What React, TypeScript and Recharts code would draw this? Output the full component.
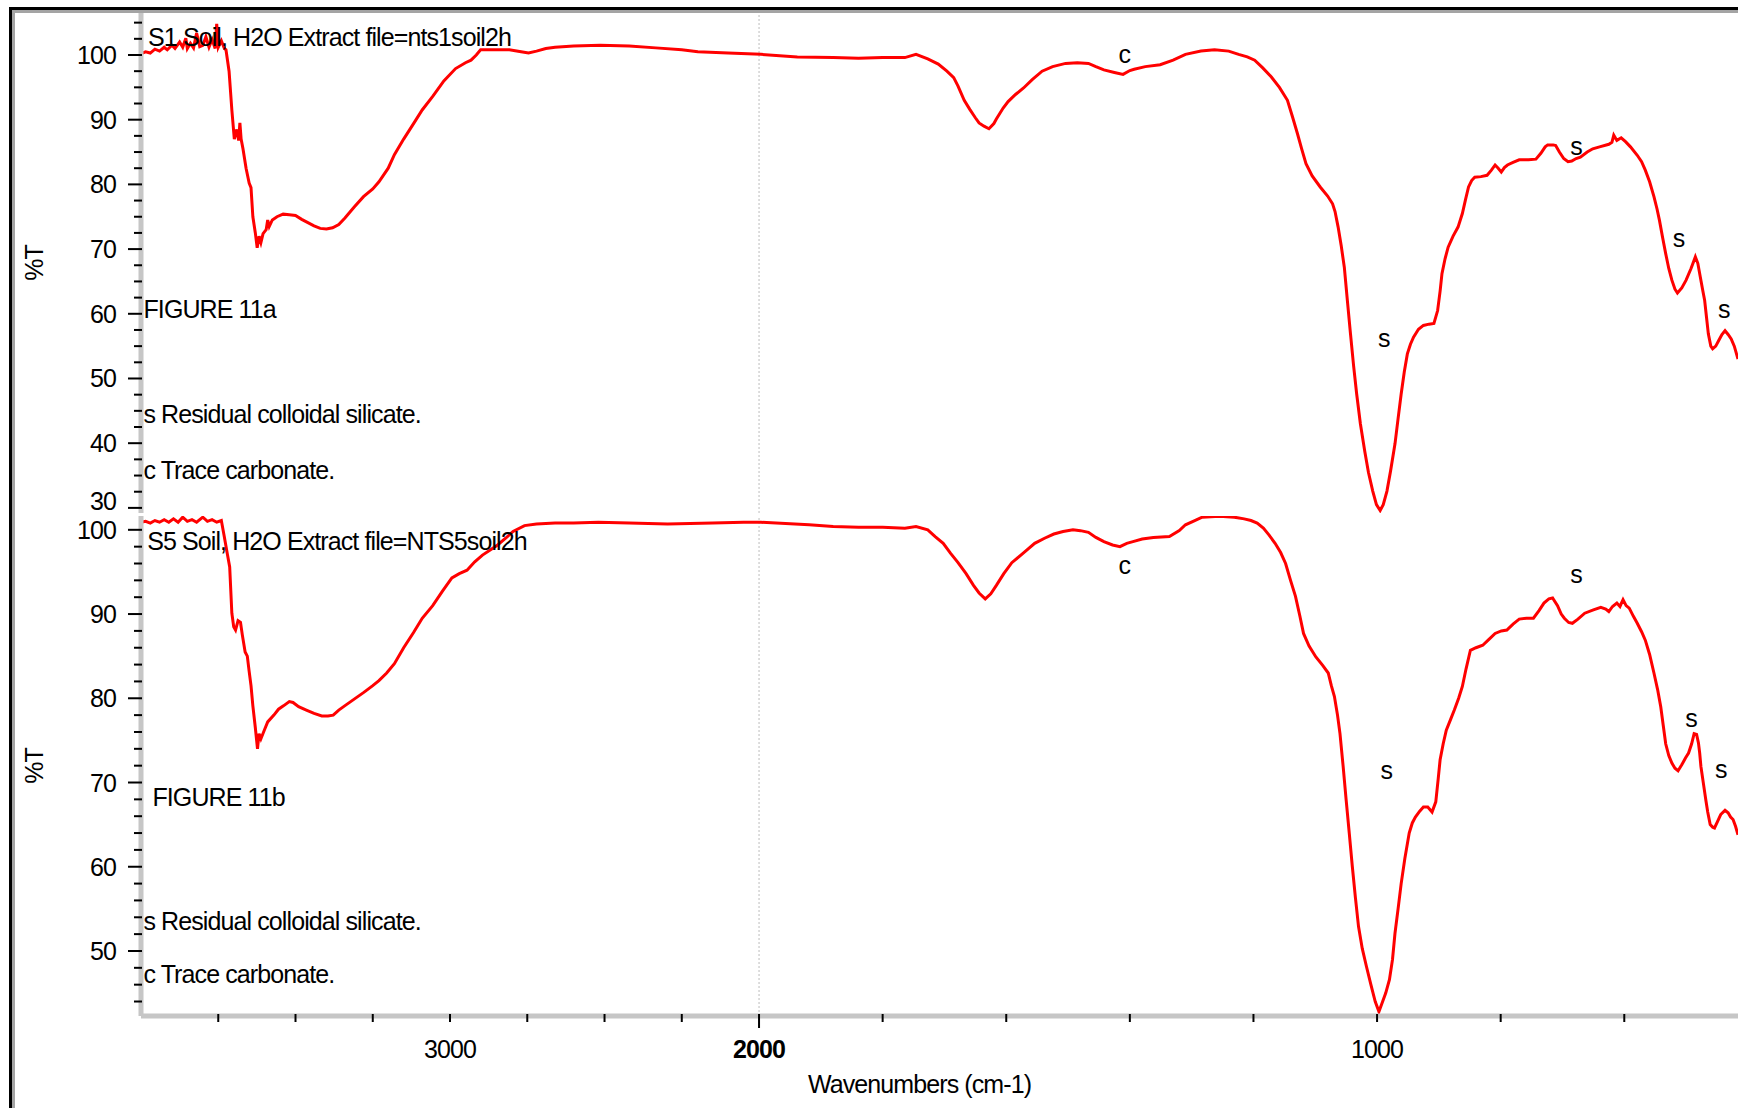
import React from 'react';
import { LineChart, Line, XAxis, YAxis, ReferenceLine, ReferenceDot } from 'recharts';

// ---------- data (wavenumber cm-1, %T) ----------
const s1Wavenumbers = [
  4000, 3985, 3970, 3955, 3940, 3925, 3915, 3900, 3890, 3875, 3865, 3855, 3850, 3840, 3830, 3820, 3810,
  3800, 3790, 3780, 3770, 3760, 3755, 3750, 3740, 3730, 3725, 3715, 3706, 3698, 3690, 3684, 3680, 3676,
  3670, 3660, 3650, 3644, 3638, 3630, 3624, 3618, 3612, 3605, 3595, 3590, 3585, 3575, 3560, 3540, 3520,
  3500, 3480, 3460, 3440, 3420, 3400, 3380, 3360, 3340, 3310, 3280, 3250, 3230, 3200, 3180, 3150, 3118,
  3090, 3056, 3020, 2982, 2950, 2932, 2915, 2901, 2850, 2808, 2770, 2746, 2720, 2690, 2660, 2600, 2514,
  2420, 2334, 2250, 2198, 2100, 1997, 1938, 1880, 1839, 1800, 1764, 1746, 1727, 1710, 1696, 1685, 1678,
  1668, 1659, 1650, 1644, 1636, 1628, 1620, 1616, 1605, 1597, 1585, 1572, 1558, 1542, 1525, 1504, 1485,
  1467, 1455, 1442, 1425, 1411, 1400, 1393, 1375, 1351, 1330, 1310, 1285, 1263, 1240, 1224, 1210, 1198,
  1185, 1171, 1158, 1145, 1137, 1129, 1122, 1115, 1105, 1092, 1080, 1072, 1068, 1063, 1058, 1053, 1048,
  1043, 1038, 1033, 1027, 1020, 1014, 1007, 1001, 995, 990, 984, 978, 971, 966, 961, 956, 951, 946, 941,
  933, 925, 916, 908, 902, 898, 895, 890, 885, 877, 869, 862, 857, 852, 847, 842, 832, 822, 815, 809, 804,
  799, 794, 789, 780, 770, 755, 743, 735, 728, 724, 715, 711, 705, 698, 691, 685, 678, 671, 660, 651, 640,
  625, 620, 617, 612, 605, 598, 590, 579, 572, 566, 559, 552, 547, 543, 538, 533, 528, 523, 518, 514, 507,
  500, 492, 485, 481, 477, 473, 470, 467, 464, 460, 457, 452, 447, 442, 437, 432, 427, 422, 416,
];
const s1Transmittance = [
  100.2, 100.5, 100.3, 100.9, 100.6, 101.2, 100.8, 101.5, 101.0, 102.0, 101.2, 102.6, 101.0, 101.8, 101.1, 103.4, 101.3,
  101.5, 102.8, 101.2, 102.4, 101.0, 104.8, 101.2, 102.2, 101.0, 100.8, 97.5, 91.5, 87.0, 88.5, 86.8, 89.5, 87.0,
  85.5, 82.5, 80.2, 79.5, 75.0, 72.5, 70.2, 72.0, 71.0, 72.4, 73.0, 74.5, 73.5, 74.5, 75.0, 75.4, 75.3,
  75.2, 74.6, 74.1, 73.6, 73.2, 73.1, 73.3, 73.8, 74.8, 76.5, 78.1, 79.3, 80.4, 82.5, 84.6, 87.0, 89.4,
  91.5, 93.6, 96.0, 97.9, 98.8, 99.2, 100.0, 100.8, 100.8, 100.8, 100.5, 100.3, 100.6, 101.0, 101.2, 101.4, 101.5,
  101.4, 101.1, 100.8, 100.5, 100.3, 100.1, 99.7, 99.6, 99.5, 99.6, 99.6, 100.1, 99.4, 98.6, 97.5, 96.5, 95.2,
  93.0, 91.6, 90.3, 89.5, 89.0, 88.6, 89.4, 90.1, 91.8, 92.8, 93.9, 94.9, 96.2, 97.5, 98.2, 98.7, 98.8,
  98.7, 98.2, 97.7, 97.3, 97.0, 97.6, 97.8, 98.2, 98.5, 99.2, 100.1, 100.6, 100.8, 100.6, 100.1, 99.7, 99.2,
  98.0, 96.6, 95.0, 93.0, 90.5, 87.9, 85.5, 83.2, 81.3, 79.6, 78.2, 77.0, 75.8, 73.4, 70.5, 67.2, 62.0,
  56.9, 52.0, 47.6, 43.0, 38.8, 35.5, 32.6, 30.5, 29.6, 30.5, 32.6, 35.8, 39.9, 43.8, 47.6, 51.0, 53.8, 55.3, 56.4,
  57.6, 58.2, 58.4, 58.5, 60.5, 63.5, 66.2, 68.5, 70.3, 72.0, 73.4, 75.5, 77.6, 79.6, 80.6, 81.1, 81.2, 81.4, 82.2, 83.0, 82.5,
  81.9, 82.6, 83.0, 83.4, 83.8, 83.8, 83.9, 84.8, 85.8, 86.1, 86.1, 86.0, 85.0, 84.0, 83.5, 83.6, 84.0, 84.2, 85.0, 85.5, 85.8,
  86.2, 86.5, 87.6, 86.8, 87.2, 86.6, 85.8, 84.5, 83.5, 82.2, 80.4, 78.1, 76.2, 74.4, 71.8, 69.3, 67.0, 65.2, 63.8, 63.2, 64.0,
  65.2, 67.0, 68.8, 67.8, 65.7, 63.6, 62.1, 59.5, 56.9, 55.0, 54.6, 55.0, 55.9, 56.8, 57.4, 56.8, 56.1, 55.0, 53.0,
];

const s5Wavenumbers = [
  4000, 3985, 3970, 3955, 3940, 3925, 3910, 3895, 3880, 3865, 3850, 3835, 3820, 3800, 3785, 3770, 3755,
  3740, 3731, 3720, 3713, 3706, 3700, 3694, 3686, 3678, 3672, 3663, 3656, 3650, 3644, 3638, 3630, 3623,
  3618, 3612, 3601, 3590, 3570, 3555, 3539, 3520, 3508, 3490, 3465, 3440, 3415, 3395, 3378, 3360, 3341,
  3310, 3279, 3250, 3230, 3205, 3180, 3150, 3118, 3090, 3056, 3025, 2994, 2970, 2945, 2920, 2895, 2870,
  2846, 2820, 2796, 2759, 2720, 2660, 2600, 2520, 2420, 2296, 2150, 2050, 1997, 1919, 1880, 1839, 1800,
  1764, 1746, 1727, 1715, 1702, 1690, 1678, 1665, 1653, 1644, 1634, 1625, 1616, 1604, 1591, 1573, 1554,
  1538, 1523, 1508, 1492, 1480, 1467, 1455, 1442, 1428, 1416, 1405, 1395, 1380, 1362, 1336, 1320, 1310,
  1295, 1283, 1255, 1231, 1215, 1204, 1194, 1184, 1175, 1165, 1156, 1148, 1140, 1132, 1125, 1119, 1110,
  1099, 1088, 1079, 1074, 1069, 1064, 1060, 1055, 1050, 1045, 1040, 1035, 1030, 1024, 1017, 1010, 1003,
  997, 992, 986, 980, 975, 971, 966, 961, 955, 948, 943, 938, 931, 925, 918, 911, 905, 901, 898, 893, 888,
  881, 875, 868, 862, 856, 849, 840, 829, 819, 809, 799, 790, 780, 770, 758, 747, 738, 730, 722, 716, 708,
  702, 697, 690, 684, 675, 664, 650, 638, 630, 625, 619, 612, 607, 602, 597, 592, 585, 579, 572, 566, 559,
  552, 546, 541, 537, 533, 528, 523, 518, 513, 507, 501, 496, 491, 487, 483, 480, 478, 476, 472, 468, 465,
  461, 457, 454, 449, 444, 437, 432, 428, 424, 420, 416,
];
const s5Transmittance = [
  100.9, 101.0, 100.8, 101.1, 100.9, 101.2, 100.9, 101.3, 100.9, 101.5, 101.0, 101.2, 100.9, 101.5, 101.0, 101.2, 100.9,
  101.1, 99.3, 97.0, 95.6, 90.1, 88.5, 88.1, 89.2, 89.0, 87.5, 85.5, 85.0, 83.2, 81.5, 79.1, 76.5, 74.0,
  75.8, 75.2, 76.2, 77.2, 78.0, 78.7, 79.1, 79.6, 79.5, 79.0, 78.6, 78.2, 77.9, 77.9, 78.0, 78.6, 79.1,
  79.9, 80.7, 81.5, 82.1, 83.0, 84.1, 86.0, 87.8, 89.5, 91.0, 92.7, 94.3, 94.8, 95.2, 96.2, 97.0, 97.6,
  98.2, 99.0, 99.8, 100.5, 100.7, 100.8, 100.8, 100.9, 100.8, 100.7, 100.8, 100.9, 100.9, 100.6, 100.4, 100.3, 100.3,
  100.2, 100.4, 100.0, 99.2, 98.4, 97.2, 96.1, 94.8, 93.4, 92.5, 91.8, 92.4, 93.4, 94.8, 96.1, 97.2, 98.4,
  99.0, 99.5, 99.8, 100.0, 99.9, 99.7, 99.1, 98.6, 98.2, 98.0, 98.4, 98.6, 98.9, 99.1, 99.2, 99.9, 100.6,
  101.1, 101.5, 101.6, 101.5, 101.3, 101.1, 100.8, 100.2, 99.4, 98.4, 97.3, 96.0, 94.0, 92.1, 89.8, 87.7, 86.2,
  84.9, 83.9, 83.0, 81.5, 80.2, 78.0, 75.8, 72.0, 67.9, 64.0, 60.0, 56.3, 52.9, 50.3, 48.1, 46.0, 44.0,
  42.8, 43.8, 45.0, 46.6, 49.0, 52.1, 55.0, 58.0, 61.0, 64.0, 65.2, 65.9, 66.6, 67.1, 67.1, 66.5, 67.7, 70.5, 72.7, 74.6, 76.2,
  77.5, 78.6, 80.0, 81.4, 83.5, 85.7, 86.0, 86.3, 87.0, 87.7, 88.0, 88.1, 88.8, 89.4, 89.5, 89.5, 90.4, 91.3, 91.8, 91.9, 91.0,
  90.0, 89.5, 89.0, 88.9, 89.4, 90.1, 90.5, 90.8, 90.6, 90.3, 90.9, 91.3, 90.9, 91.7, 91.0, 90.7, 89.7, 88.9, 87.9, 86.9, 85.2,
  83.0, 81.0, 79.0, 76.8, 74.6, 73.2, 72.3, 71.7, 71.4, 72.1, 72.9, 73.5, 74.6, 75.8, 75.7, 74.7, 73.5, 71.9, 69.9, 67.9, 66.5,
  65.0, 64.7, 64.6, 65.4, 66.2, 66.7, 66.4, 65.9, 65.6, 64.8, 63.8,
];

// axes
const xTickWavenumbers = [3750, 3500, 3250, 3000, 2750, 2500, 2250, 2000, 1800, 1600, 1400, 1200, 1000, 800, 600];
const xTickLabels = [3000, 2000, 1000];
const topYTicks = [30, 32.5, 35, 37.5, 40, 42.5, 45, 47.5, 50, 52.5, 55, 57.5, 60, 62.5, 65, 67.5, 70, 72.5, 75, 77.5, 80, 82.5, 85, 87.5, 90, 92.5, 95, 97.5, 100, 102.5, 105];
const topYLabels = [30, 40, 50, 60, 70, 80, 90, 100];
const bottomYTicks = [44, 46, 48, 50, 52, 54, 56, 58, 60, 62, 64, 66, 68, 70, 72, 74, 76, 78, 80, 82, 84, 86, 88, 90, 92, 94, 96, 98, 100];
const bottomYLabels = [50, 60, 70, 80, 90, 100];

// annotations (text, wavenumber, %T)
const s1Notes = [
  { text: 'S1 Soil, H2O Extract file=nts1soil2h', wn: 3977, t: 101.4 },
  { text: 'FIGURE 11a', wn: 3992, t: 59.35 },
  { text: 's Residual colloidal silicate.', wn: 3992, t: 43.1 },
  { text: 'c Trace carbonate.', wn: 3992, t: 34.4 },
];
const s1Marks = [
  { text: 'c', wn: 1409, t: 98.8 },
  { text: 's', wn: 989, t: 54.8 },
  { text: 's', wn: 678, t: 84.5 },
  { text: 's', wn: 512, t: 70.4 },
  { text: 's', wn: 439, t: 59.3 },
];
const s5Notes = [
  { text: 'S5 Soil, H2O Extract file=NTS5soil2h', wn: 3980, t: 97.66 },
  { text: 'FIGURE 11b', wn: 3963, t: 67.24 },
  { text: 's Residual colloidal silicate.', wn: 3992, t: 52.46 },
  { text: 'c Trace carbonate.', wn: 3992, t: 46.2 },
];
const s5Marks = [
  { text: 'c', wn: 1409, t: 94.75 },
  { text: 's', wn: 985, t: 70.4 },
  { text: 's', wn: 678, t: 93.7 },
  { text: 's', wn: 492, t: 76.6 },
  { text: 's', wn: 444, t: 70.5 },
];

// ---------- axis transform: 2x expansion below 2000 cm-1 ----------
const toU = (wn: number) => (wn >= 2000 ? (4000 - wn) / 2 : 1000 + (2000 - wn));
const fromU = (u: number) => Math.round(u <= 1000 ? 4000 - 2 * u : 2000 - (u - 1000));
const U_MAX = 2584;

const s1Data = s1Wavenumbers.map((wn, i) => ({ u: toU(wn), t: s1Transmittance[i] }));
const s5Data = s5Wavenumbers.map((wn, i) => ({ u: toU(wn), t: s5Transmittance[i] }));

const FONT = "'Liberation Sans', Arial, Helvetica, sans-serif";
const textStyle: React.CSSProperties = { fontFamily: FONT, fontSize: 25, letterSpacing: '-0.9px' };
const AXIS_GREY = '#c6c6c6';

const makeYTick = (labels: number[], lowest: number) => (props: any) => {
  const { x, y, payload } = props;
  const v = payload.value;
  const major = labels.includes(v);
  return (
    <g>
      <line x1={x - (major ? 13 : 7)} x2={x + 1} y1={y} y2={y} stroke="#000" strokeWidth={2} />
      {major && (
        <text x={x - 25} y={y} dy={v === lowest ? -7 : 0} textAnchor="end" dominantBaseline="central" fill="#000" style={textStyle}>
          {v}
        </text>
      )}
    </g>
  );
};

const XTick = (props: any) => {
  const { x, y, payload } = props;
  const wn = fromU(payload.value);
  const labelled = xTickLabels.includes(wn);
  const long = wn === 2000;
  return (
    <g>
      <line x1={x} x2={x} y1={y - 2} y2={y + (long ? 12 : 6)} stroke="#000" strokeWidth={2} />
      {labelled && (
        <text x={x} y={y + 42} textAnchor="middle" fill="#000" fontWeight={long ? 'bold' : 'normal'} style={textStyle}>
          {wn}
        </text>
      )}
    </g>
  );
};

const Anno = (props: any) => {
  const { viewBox, text, anchor } = props;
  const cx = viewBox.x + (viewBox.width || 0) / 2;
  const cy = viewBox.y + (viewBox.height || 0) / 2;
  return (
    <text x={cx} y={cy} textAnchor={anchor} fill="#000" style={textStyle}>
      {text}
    </text>
  );
};

const YTitle = (props: any) => {
  const { viewBox } = props;
  const cx = viewBox.x + 33.5;
  const cy = viewBox.y + viewBox.height / 2;
  return (
    <text x={cx} y={cy} transform={`rotate(-90 ${cx} ${cy})`} textAnchor="middle" dominantBaseline="central" fill="#000" style={textStyle}>
      %T
    </text>
  );
};

const XTitle = (props: any) => {
  const { viewBox } = props;
  const cx = viewBox.x + viewBox.width / 2 - 20;
  return (
    <text x={cx} y={viewBox.y + 77} textAnchor="middle" fill="#000" style={textStyle}>
      Wavenumbers (cm-1)
    </text>
  );
};

const notesToDots = (notes: { text: string; wn: number; t: number }[], anchor: string, prefix: string) =>
  notes.map((n, i) => (
    <ReferenceDot
      key={`${prefix}-${i}`}
      x={toU(n.wn)}
      y={n.t}
      r={0}
      fill="none"
      stroke="none"
      ifOverflow="visible"
      label={<Anno text={n.text} anchor={anchor} />}
    />
  ));

export default function App() {
  return (
    <div style={{ position: 'absolute', left: 0, top: 0, width: 1738, height: 1108, background: '#fff', overflow: 'hidden' }}>
      {/* window frame */}
      <div style={{ position: 'absolute', left: 9, top: 7, width: 1729, height: 3, background: '#000' }} />
      <div style={{ position: 'absolute', left: 9, top: 7, width: 3, height: 1101, background: '#000' }} />
      <div style={{ position: 'absolute', left: 12, top: 10, width: 1726, height: 3, background: '#a4a4a4' }} />
      <div style={{ position: 'absolute', left: 12, top: 10, width: 3, height: 1098, background: '#a4a4a4' }} />

      {/* top spectrum S1 */}
      <div style={{ position: 'absolute', left: 0, top: 0 }}>
        <LineChart width={1738} height={520} data={s1Data} margin={{ top: 13, right: 0, bottom: 7, left: 0 }}>
          <XAxis
            dataKey="u"
            type="number"
            domain={[0, U_MAX]}
            allowDataOverflow
            ticks={[]}
            tick={false}
            tickLine={false}
            height={0}
            axisLine={{ stroke: AXIS_GREY, strokeWidth: 5 }}
          />
          <YAxis
            type="number"
            domain={[29.21, 106.49]}
            allowDataOverflow
            ticks={topYTicks}
            interval={0}
            width={141}
            tickSize={0}
            tickMargin={0}
            tickLine={false}
            tick={makeYTick(topYLabels, 30)}
            axisLine={{ stroke: AXIS_GREY, strokeWidth: 5 }}
            label={<YTitle />}
          />
          <ReferenceLine x={1000} stroke="#bcbcbc" strokeDasharray="2 2" strokeWidth={1} />
          <Line dataKey="t" type="linear" stroke="#ff0000" strokeWidth={3} dot={false} isAnimationActive={false} />
          {notesToDots(s1Notes, 'start', 's1n')}
          {notesToDots(s1Marks, 'middle', 's1m')}
        </LineChart>
      </div>

      {/* bottom spectrum S5 */}
      <div style={{ position: 'absolute', left: 0, top: 513 }}>
        <LineChart width={1738} height={595} data={s5Data} margin={{ top: 3, right: 0, bottom: 0, left: 0 }}>
          <XAxis
            dataKey="u"
            type="number"
            domain={[0, U_MAX]}
            allowDataOverflow
            ticks={xTickWavenumbers.map(toU)}
            interval={0}
            height={92}
            tickSize={0}
            tickMargin={0}
            tickLine={false}
            tick={<XTick />}
            axisLine={{ stroke: AXIS_GREY, strokeWidth: 5 }}
            label={<XTitle />}
          />
          <YAxis
            type="number"
            domain={[42.28, 101.64]}
            allowDataOverflow
            ticks={bottomYTicks}
            interval={0}
            width={141}
            tickSize={0}
            tickMargin={0}
            tickLine={false}
            tick={makeYTick(bottomYLabels, 0)}
            axisLine={{ stroke: AXIS_GREY, strokeWidth: 5 }}
            label={<YTitle />}
          />
          <ReferenceLine x={1000} stroke="#bcbcbc" strokeDasharray="2 2" strokeWidth={1} />
          <Line dataKey="t" type="linear" stroke="#ff0000" strokeWidth={3} dot={false} isAnimationActive={false} />
          {notesToDots(s5Notes, 'start', 's5n')}
          {notesToDots(s5Marks, 'middle', 's5m')}
        </LineChart>
      </div>
    </div>
  );
}
